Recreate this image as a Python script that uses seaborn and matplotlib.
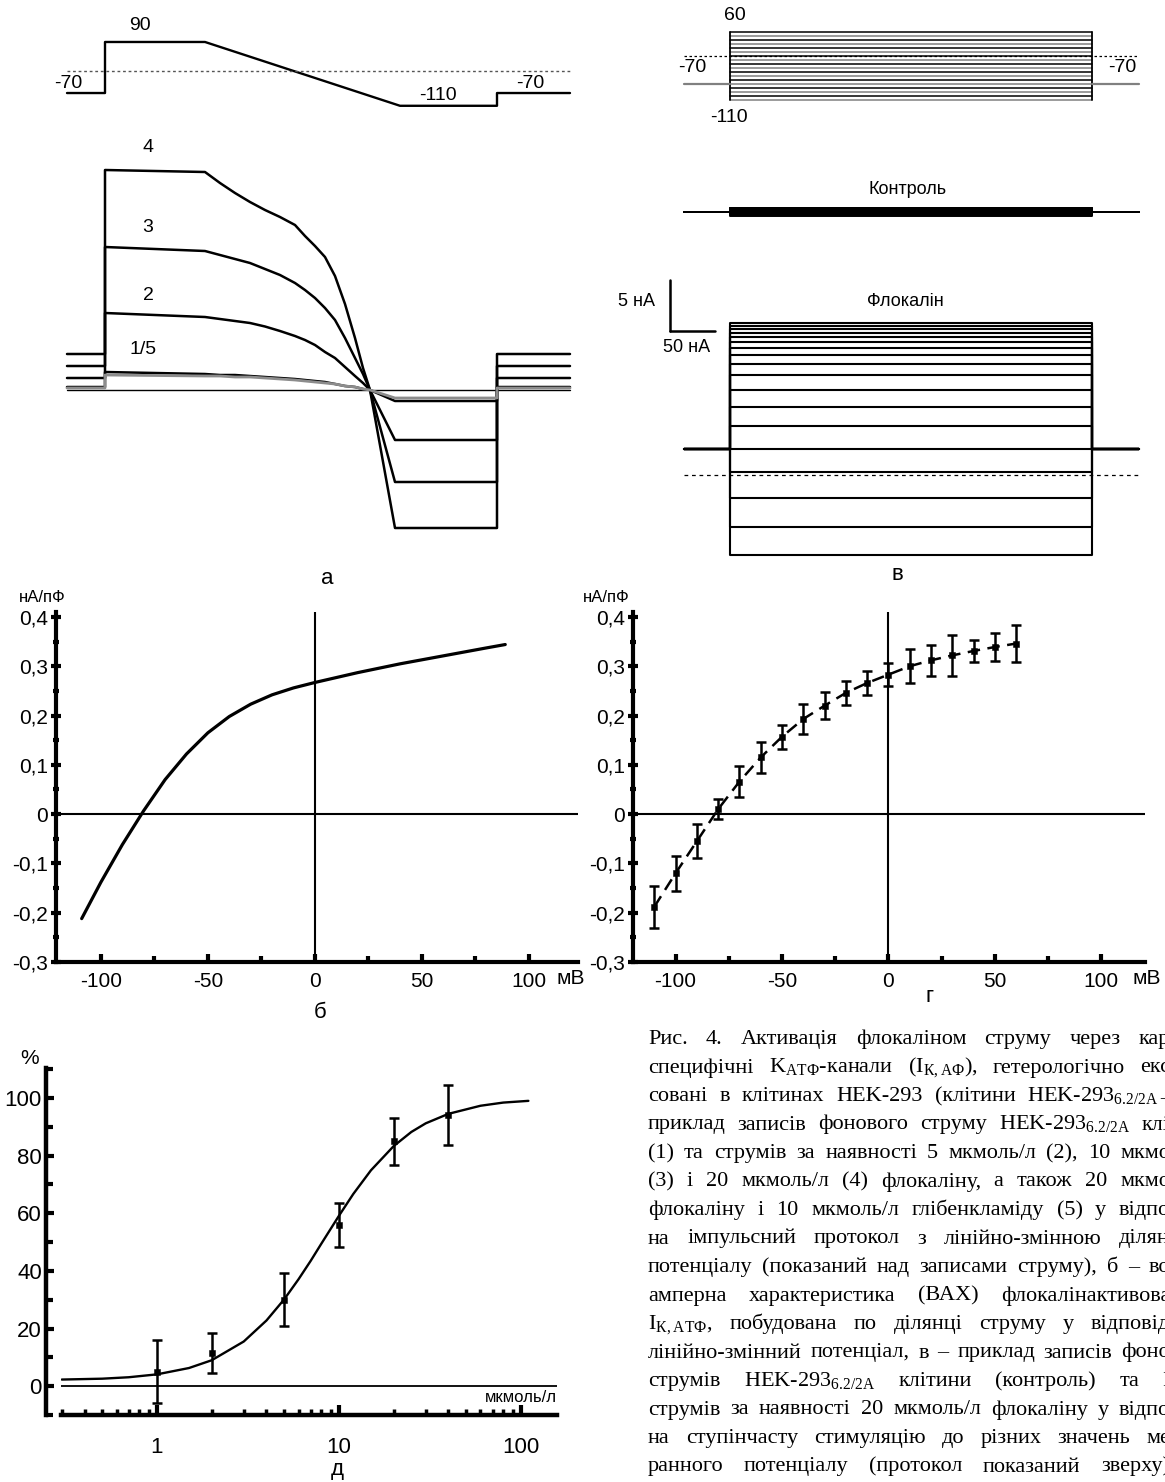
import matplotlib
matplotlib.use("Agg")
import matplotlib.pyplot as plt
import seaborn as sns

W, H = 1165, 1482

# ---------------- data ----------------
# (а) ramp protocol: time (ms), voltage (mV)
a_prot_t = [-38, 0, 0, 100, 295, 392, 392, 465]
a_prot_v = [-70, -70, 90, 90, -110, -110, -70, -70]
# (а) currents (nA): holding at -70 mV, start of +90 mV plateau, samples along the ramp
a_names = ["4", "3", "2", "1", "5"]
a_hold = [3.6, 2.4, 1.2, 0.3, 0.2]
a_plateau = [22.0, 14.3, 7.7, 1.8, 1.5]
a_ramp_t = [100, 115, 130, 145, 160, 175, 190, 200, 210, 220, 230, 240, 250, 258, 265, 290]
a_ramp_4 = [21.8, 20.7, 19.7, 18.8, 18.0, 17.3, 16.5, 15.4, 14.4, 13.3, 11.4, 8.6, 5.2, 2.2, 0.0, -13.8]
a_ramp_3 = [13.9, 13.5, 13.1, 12.7, 12.1, 11.5, 10.7, 10.0, 9.2, 8.2, 7.0, 5.2, 3.2, 1.6, 0.0, -9.2]
a_ramp_2 = [7.3, 7.1, 6.9, 6.7, 6.35, 5.9, 5.4, 5.0, 4.5, 3.8, 3.2, 2.3, 1.4, 0.7, 0.0, -5.0]
a_ramp_1 = [1.6, 1.5, 1.5, 1.4, 1.3, 1.2, 1.1, 1.0, 0.9, 0.8, 0.6, 0.4, 0.3, 0.1, 0.0, -1.1]
a_ramp_5 = [1.4, 1.4, 1.3, 1.3, 1.2, 1.1, 1.0, 0.9, 0.8, 0.7, 0.6, 0.4, 0.3, 0.1, 0.0, -0.8]
a_trace_labels = ["4", "3", "2", "1/5"]

# (б) I-V from the ramp (mV, nA/pF)
b_v = [-109, -100, -90, -80, -70, -60, -50, -40, -30, -20, -10, 0, 10, 20, 30, 40, 50, 60, 70, 80, 89]
b_i = [-0.212, -0.138, -0.062, 0.007, 0.070, 0.122, 0.165, 0.198, 0.223, 0.242, 0.256, 0.267,
       0.277, 0.287, 0.296, 0.305, 0.313, 0.321, 0.329, 0.337, 0.344]

# (в) step protocol and currents
v_steps = [60, 50, 40, 30, 20, 10, 0, -10, -20, -30, -40, -50, -60, -70, -80, -90, -100, -110]
v_hold_mv = -70
v_pulse_t = [0, 400]
v_hold_t = [-51, 452]
v_control = [0.42, 0.40, 0.36, 0.33, 0.28, 0.25, 0.20, 0.16, 0.12, 0.08, 0.04, 0.0,
             -0.05, -0.10, -0.16, -0.22, -0.30, -0.38]
v_flocalin = [14.9, 14.6, 14.3, 13.9, 13.5, 13.0, 12.5, 11.8, 10.9, 9.8, 8.3, 6.7, 4.8,
              2.6, 0.3, -2.3, -5.1, -7.8]
v_scale_na = 5
v_scale_ms = 50

# (г) step I-V, mean ± error
g_v = [-110, -100, -90, -80, -70, -60, -50, -40, -30, -20, -10, 0, 10, 20, 30, 40, 50, 60]
g_i = [-0.188, -0.120, -0.055, 0.010, 0.066, 0.115, 0.157, 0.193, 0.220, 0.246, 0.266,
       0.283, 0.300, 0.312, 0.322, 0.331, 0.339, 0.346]
g_err = [0.043, 0.035, 0.035, 0.020, 0.032, 0.032, 0.024, 0.031, 0.028, 0.024, 0.024,
         0.024, 0.035, 0.032, 0.042, 0.023, 0.029, 0.038]

# (д) concentration-response
d_conc = [1, 2, 5, 10, 20, 40]
d_resp = [5.0, 11.5, 30.0, 56.0, 85.0, 94.0]
d_err = [10.9, 7.0, 9.2, 7.6, 8.2, 10.4]
d_fit_c = [0.3, 0.5, 0.7, 1, 1.5, 2, 3, 4, 5, 6, 7, 8, 10, 12, 15, 20, 25, 30, 40, 60, 80, 110]
d_fit_r = [2.3, 2.6, 3.1, 4.1, 6.3, 9.0, 15.5, 22.8, 30.1, 37.1, 43.5, 49.4, 59.1, 66.7,
           74.9, 83.3, 88.2, 91.2, 94.5, 97.3, 98.4, 99.0]

iv_yticks = [-0.3, -0.2, -0.1, 0, 0.1, 0.2, 0.3, 0.4]
iv_ylabels = ["-0,3", "-0,2", "-0,1", "0", "0,1", "0,2", "0,3", "0,4"]
iv_yminor = [-0.25, -0.15, -0.05, 0.05, 0.15, 0.25, 0.35]
iv_xticks = [-100, -50, 0, 50, 100]
iv_xlabels = ["-100", "-50", "0", "50", "100"]
iv_xminor = [-75, -25, 25, 75]
d_yticks = [0, 20, 40, 60, 80, 100]
d_yminor = [-10, 10, 30, 50, 70, 90, 110]
d_xticks = [1, 10, 100]
d_xlabels = ["1", "10", "100"]
d_xminor = [0.3, 0.4, 0.5, 0.6, 0.7, 0.8, 0.9, 2, 3, 4, 5, 6, 7, 8, 9,
            20, 30, 40, 50, 60, 70, 80, 90]

caption_lines = [
    "Рис. 4. Активація флокаліном струму через кар",
    r"специфічні K$_{\mathregular{АТФ}}$-канали (I$_{\mathregular{К,АФ}}$), гетерологічно екс",
    r"совані в клітинах HEK-293 (клітини HEK-293$_{\mathregular{6.2/2A-}}$",
    r"приклад записів фонового струму HEK-293$_{\mathregular{6.2/2A}}$ клі",
    "(1) та струмів за наявності 5 мкмоль/л (2), 10 мкмо",
    "(3) і 20 мкмоль/л (4) флокаліну, а також 20 мкмо",
    "флокаліну і 10 мкмоль/л глібенкламіду (5) у відпо",
    "на імпульсний протокол з лінійно-змінною ділян",
    "потенціалу (показаний над записами струму), б – во",
    "амперна характеристика (ВАХ) флокалінактивова",
    r"I$_{\mathregular{К,АТФ}}$, побудована по ділянці струму у відповід",
    "лінійно-змінний потенціал, в – приклад записів фоно",
    r"струмів HEK-293$_{\mathregular{6.2/2A}}$ клітини (контроль) та I",
    "струмів за наявності 20 мкмоль/л флокаліну у відпо",
    "на ступінчасту стимуляцію до різних значень ме",
    "ранного потенціалу (протокол показаний зверху)",
]

# ---------------- style ----------------
sns.set_theme(style="ticks", rc={
    "axes.edgecolor": "black", "text.color": "black", "axes.labelcolor": "black",
    "xtick.color": "black", "ytick.color": "black", "axes.facecolor": "none",
})
plt.rcParams['font.family'] = ['Liberation Sans', 'DejaVu Sans']
plt.rcParams['mathtext.fontset'] = 'custom'
plt.rcParams['mathtext.rm'] = 'Liberation Serif'

fig = plt.figure(figsize=(W / 100, H / 100), dpi=100)
fig.patch.set_facecolor("white")


def px_axes(x0, y0, x1, y1):
    ax = fig.add_axes([x0 / W, 1 - y1 / H, (x1 - x0) / W, (y1 - y0) / H])
    ax.patch.set_alpha(0)
    return ax


def ftext(x, y, s, **kw):
    kw.setdefault("ha", "center")
    kw.setdefault("va", "center")
    return fig.text(x / W, 1 - y / H, s, **kw)


def line(ax, x, y, **kw):
    sns.lineplot(x=x, y=y, ax=ax, sort=False, estimator=None, legend=False, **kw)


# ================= (а) =================
ax_ap = px_axes(0, 0, 600, 130)
ax_ap.set_xlim(-105, 495)
ax_ap.set_ylim(-185.9, 221.6)
ax_ap.axis("off")
line(ax_ap, a_prot_t, a_prot_v, color="black", lw=1.7)
ax_ap.plot([a_prot_t[0], a_prot_t[-1]], [0, 0], color="#555555", lw=1.0, ls=(0, (2, 2)))
ftext(140, 25, "90", fontsize=14)
ftext(68, 83, "-70", fontsize=14)
ftext(438, 96, "-110", fontsize=14)
ftext(530, 83, "-70", fontsize=14)

ax_a = px_axes(0, 130, 600, 560)
ax_a.set_xlim(-105, 495)
ax_a.set_ylim(-17, 26)
ax_a.axis("off")
ax_a.plot([a_prot_t[0], a_prot_t[-1]], [0, 0], color="black", lw=1.0)
ramps = [a_ramp_4, a_ramp_3, a_ramp_2, a_ramp_1, a_ramp_5]
for k, name in enumerate(a_names):
    hold, plat, rmp = a_hold[k], a_plateau[k], ramps[k]
    t = [a_prot_t[0], 0, 0] + a_ramp_t + [a_prot_t[5], a_prot_t[6], a_prot_t[7]]
    cur = [hold, hold, plat] + rmp + [rmp[-1], hold, hold]
    col = "#8c8c8c" if name == "5" else "black"
    line(ax_a, t, cur, color=col, lw=2.0 if name == "5" else 1.8)
for lab, (x, y) in zip(a_trace_labels, [(148, 148), (148, 228), (148, 295), (143, 350)]):
    ftext(x, y, lab, fontsize=14)
ftext(327, 578, "а", fontsize=16)

# ================= (в) =================
v_xlim = (-143.6, 480.7)
ax_vp = px_axes(600, 0, 1165, 130)
ax_vp.set_xlim(*v_xlim)
ax_vp.set_ylim(-185, 140)
ax_vp.axis("off")
for k, vv in enumerate(v_steps):
    line(ax_vp, v_pulse_t, [vv, vv], color="black" if k % 2 == 0 else "#808080", lw=1.1)
for tt in v_pulse_t:
    line(ax_vp, [tt, tt], [min(v_steps), max(v_steps)], color="black", lw=1.3)
line(ax_vp, [v_hold_t[0], v_pulse_t[0]], [v_hold_mv, v_hold_mv], color="#808080", lw=1.6)
line(ax_vp, [v_pulse_t[1], v_hold_t[1]], [v_hold_mv, v_hold_mv], color="#808080", lw=1.6)
ax_vp.plot(v_hold_t, [0, 0], color="black", lw=0.9, ls=(0, (2, 2)))
ftext(735, 15, "60", fontsize=14)
ftext(692, 68, "-70", fontsize=14)
ftext(729, 117, "-110", fontsize=14)
ftext(1122, 68, "-70", fontsize=14)

ax_vc = px_axes(600, 150, 1165, 250)
ax_vc.set_xlim(*v_xlim)
ax_vc.set_ylim(-3.73, 6.08)
ax_vc.axis("off")
for c in v_control:
    t = [v_hold_t[0], v_pulse_t[0], v_pulse_t[0], v_pulse_t[1], v_pulse_t[1], v_hold_t[1]]
    line(ax_vc, t, [0, 0, c, c, 0, 0], color="black", lw=1.4)
ftext(908, 190, "Контроль", fontsize=13)

ax_vf = px_axes(600, 270, 1165, 570)
ax_vf.set_xlim(*v_xlim)
ax_vf.set_ylim(-9.31, 20.1)
ax_vf.axis("off")
h_idx = v_steps.index(v_hold_mv)
hcur = v_flocalin[h_idx]
for f in v_flocalin:
    t = [v_hold_t[0], v_pulse_t[0], v_pulse_t[0], v_pulse_t[1], v_pulse_t[1], v_hold_t[1]]
    line(ax_vf, t, [hcur, hcur, f, f, hcur, hcur], color="black", lw=1.5)
ax_vf.plot(v_hold_t, [0, 0], color="black", lw=0.9, ls=(0, (3, 3)))
sb_t, sb_i = -66, 14.1
ax_vf.plot([sb_t, sb_t], [sb_i, sb_i + v_scale_na], color="black", lw=1.8)
ax_vf.plot([sb_t, sb_t + v_scale_ms], [sb_i, sb_i], color="black", lw=1.8)
ftext(637, 302, "5 нА", fontsize=13)
ftext(687, 348, "50 нА", fontsize=13)
ftext(905, 302, "Флокалін", fontsize=13)
ftext(897, 574, "в", fontsize=16)


# ================= I-V axes style =================
def style_iv(ax, xlim):
    ax.set_xlim(*xlim)
    ax.set_ylim(-0.3, 0.41)
    for s in ["top", "right"]:
        ax.spines[s].set_visible(False)
    for s in ["left", "bottom"]:
        ax.spines[s].set_linewidth(3)
    ax.set_yticks(iv_yticks)
    ax.set_yticklabels(iv_ylabels)
    ax.set_yticks(iv_yminor, minor=True)
    ax.set_xticks(iv_xticks)
    ax.set_xticklabels(iv_xlabels)
    ax.set_xticks(iv_xminor, minor=True)
    ax.tick_params(axis="y", which="major", direction="inout", length=7, width=3, labelsize=15, pad=2)
    ax.tick_params(axis="y", which="minor", direction="inout", length=5, width=3)
    ax.tick_params(axis="x", which="major", direction="in", length=6, width=3, labelsize=15, pad=7)
    ax.tick_params(axis="x", which="minor", direction="in", length=4, width=3)
    ax.axhline(0, color="black", lw=1.5)
    ax.axvline(0, color="black", lw=1.5)
    ax.set_xlabel("")
    ax.set_ylabel("")


# ================= (б) =================
ax_b = px_axes(56, 612, 578, 962)
line(ax_b, b_v, b_i, color="black", lw=2.3)
style_iv(ax_b, (-121, 123))
ftext(42, 597, "нА/пФ", fontsize=12)
ftext(571, 979, "мВ", fontsize=15)
ftext(320, 1012, "б", fontsize=16)

# ================= (г) =================
ax_g = px_axes(633, 612, 1145, 962)
line(ax_g, g_v, g_i, color="black", lw=1.8, linestyle=(0, (5, 3)))
ax_g.errorbar(g_v, g_i, yerr=g_err, fmt="none", ecolor="black", elinewidth=1.8,
              capsize=3.3, capthick=1.8)
sns.scatterplot(x=g_v, y=g_i, ax=ax_g, marker="s", s=22, color="black",
                edgecolor="black", legend=False, zorder=5)
style_iv(ax_g, (-120, 120.5))
ftext(606, 597, "нА/пФ", fontsize=12)
ftext(1147, 979, "мВ", fontsize=15)
ftext(930, 997, "г", fontsize=16)

# ================= (д) =================
ax_d = px_axes(61, 1068, 557, 1415)
line(ax_d, d_fit_c, d_fit_r, color="black", lw=1.7)
ax_d.errorbar(d_conc, d_resp, yerr=d_err, fmt="none", ecolor="black", elinewidth=1.8,
              capsize=3.5, capthick=1.8)
sns.scatterplot(x=d_conc, y=d_resp, ax=ax_d, marker="s", s=22, color="black",
                edgecolor="black", legend=False, zorder=5)
ax_d.set_xscale("log")
ax_d.set_xlim(0.297, 158)
ax_d.set_ylim(-10, 110.4)
ax_d.axhline(0, color="black", lw=1.3)
for s in ["top", "right"]:
    ax_d.spines[s].set_visible(False)
for s in ["left", "bottom"]:
    ax_d.spines[s].set_linewidth(3.2)
ax_d.spines["left"].set_position(("outward", 10.8))
ax_d.set_yticks(d_yticks)
ax_d.set_yticklabels([str(v) for v in d_yticks])
ax_d.set_yticks(d_yminor, minor=True)
ax_d.set_xticks(d_xticks)
ax_d.set_xticklabels(d_xlabels)
ax_d.set_xticks(d_xminor, minor=True)
ax_d.xaxis.set_minor_formatter(matplotlib.ticker.NullFormatter())
ax_d.tick_params(axis="y", which="major", direction="in", length=6, width=3, labelsize=16, pad=3)
ax_d.tick_params(axis="y", which="minor", direction="in", length=5, width=3)
ax_d.tick_params(axis="x", which="major", direction="in", length=7, width=3, labelsize=16, pad=16)
ax_d.tick_params(axis="x", which="minor", direction="in", length=4, width=2.5)
ax_d.set_xlabel("")
ax_d.set_ylabel("")
ftext(30, 1058, "%", fontsize=15)
ftext(557, 1398, "мкмоль/л", fontsize=12, ha="right")
ftext(337, 1470, "д", fontsize=16)

# ================= caption (justified) =================
cap_family = ["Liberation Serif", "DejaVu Serif"]
cap_fs = 16
cap_x0, cap_x1 = 648, 1170
cap_y0, cap_dy = 1044, 28.5
renderer = fig.canvas.get_renderer()
for i, ln in enumerate(caption_lines):
    words = ln.split(" ")
    widths = []
    for w in words:
        t = fig.text(0, 0, w, fontsize=cap_fs, family=cap_family)
        widths.append(t.get_window_extent(renderer).width)
        t.remove()
    gap = (cap_x1 - cap_x0 - sum(widths)) / max(len(words) - 1, 1)
    gap = max(gap, 4.0)
    x = cap_x0
    y = cap_y0 + cap_dy * i
    for w, wd in zip(words, widths):
        ftext(x, y, w, fontsize=cap_fs, family=cap_family, ha="left", va="baseline")
        x += wd + gap

fig.savefig("out.png", dpi=100)
